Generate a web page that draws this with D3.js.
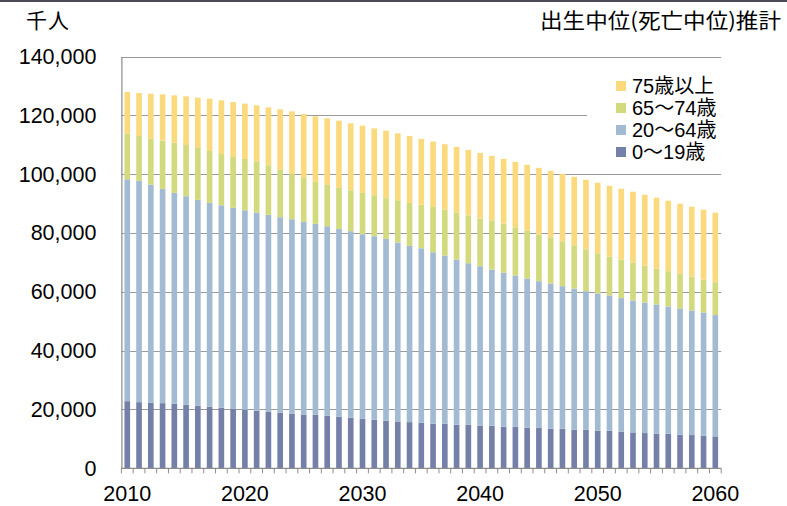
<!DOCTYPE html>
<html>
<head>
<meta charset="utf-8">
<script src="https://cdn.jsdelivr.net/npm/d3@7"></script>
<style>
  html, body { margin: 0; padding: 0; background: #fff; }
  svg { display: block; }
</style>
</head>
<body>
<svg id="chart" width="787" height="506"></svg>
<script>
// 将来推計人口（千人）: 年齢区分別
const years = d3.range(2010, 2061);

const age0to19 = [
  22830, 22490, 22260, 22150, 21920, 21580, 21250, 20910, 20570, 20340,
  19890, 19550, 19210, 18870, 18530, 18300, 18190, 17850, 17510, 17170,
  16830, 16490, 16150, 15920, 15700, 15480, 15140, 15140, 14800, 14800,
  14460, 14460, 14120, 14120, 13790, 13790, 13450, 13450, 13110, 13110,
  12770, 12770, 12430, 12200, 11980, 11750, 11750, 11410, 11300, 11070,
  10850
];
const age20to64 = [
  75430, 75210, 74190, 72830, 71700, 70910, 69990, 69310, 68860, 68190,
  67840, 67390, 66940, 66490, 66150, 65470, 64900, 64450, 63880, 63430,
  62750, 62410, 61840, 60830, 59920, 59320, 58310, 57180, 56160, 54920,
  54240, 53110, 52430, 51420, 50730, 49830, 49380, 48470, 48020, 47120,
  46670, 45990, 45420, 44860, 44400, 43960, 43280, 42940, 42370, 41920,
  41240
];
const age65to74 = [
  15510, 15280, 15620, 16410, 17090, 17430, 17660, 17660, 17430, 17320,
  17440, 17430, 16870, 16070, 15280, 14940, 14270, 14040, 13930, 13930,
  14040, 13930, 13820, 14380, 14600, 14810, 15370, 15590, 16050, 16270,
  16270, 16730, 16620, 16380, 16270, 15930, 15700, 15260, 14690, 14230,
  13670, 13220, 13110, 12880, 12550, 12200, 11980, 11750, 11530, 11190,
  11190
];
const age75plus = [
  14150, 14600, 15280, 15740, 16080, 16530, 17100, 17780, 18230, 18670,
  18790, 19020, 19690, 20600, 21390, 21740, 22300, 22640, 22870, 22750,
  22870, 22750, 22980, 22750, 22760, 22370, 22260, 22260, 22260, 22260,
  22260, 21920, 22030, 22260, 22380, 22600, 22600, 22940, 23280, 23620,
  23950, 24070, 24080, 24080, 24070, 24080, 23960, 23850, 23730, 23740,
  23610
];

const seriesKeys = ["0〜19歳", "20〜64歳", "65〜74歳", "75歳以上"];
const seriesColors = ["#7580a8", "#a2bad2", "#d3da7e", "#fbd97d"];
const yTicks = [0, 20000, 40000, 60000, 80000, 100000, 120000, 140000];
const xLabelYears = [2010, 2020, 2030, 2040, 2050, 2060];

const table = years.map((yr, i) => ({
  year: yr,
  "0〜19歳": age0to19[i],
  "20〜64歳": age20to64[i],
  "65〜74歳": age65to74[i],
  "75歳以上": age75plus[i]
}));

const svg = d3.select("#chart");
const latin = "'Liberation Sans', Arial, 'Noto Sans CJK JP', sans-serif";
const cjk = "'Noto Sans CJK JP', 'Liberation Sans', sans-serif";

const plot = { left: 121.4, right: 721.2, top: 56.5, bottom: 468.3 };

const x = d3.scaleBand()
  .domain(years)
  .range([plot.left, plot.right])
  .paddingInner(0.52)
  .paddingOuter(0.26);

const y = d3.scaleLinear()
  .domain([0, 140000])
  .range([plot.bottom, plot.top]);

// top frame line
svg.append("rect")
  .attr("x", 0).attr("y", 0)
  .attr("width", 787).attr("height", 2)
  .attr("fill", "#4a4a55");

// horizontal gridlines
svg.append("g")
  .selectAll("line")
  .data(yTicks.filter(d => d > 0))
  .join("line")
  .attr("x1", plot.left).attr("x2", plot.right)
  .attr("y1", d => Math.round(y(d)) + 0.5)
  .attr("y2", d => Math.round(y(d)) + 0.5)
  .attr("stroke", "#9a9a9a")
  .attr("stroke-width", 1.2);

// stacked bars
const stack = d3.stack().keys(seriesKeys);
const layers = stack(table);

svg.append("g")
  .selectAll("g")
  .data(layers)
  .join("g")
  .attr("fill", (d, i) => seriesColors[i])
  .selectAll("rect")
  .data(d => d)
  .join("rect")
  .attr("x", d => x(d.data.year))
  .attr("width", x.bandwidth())
  .attr("y", d => y(d[1]))
  .attr("height", d => y(d[0]) - y(d[1]));

// y axis
const yAxis = d3.axisLeft(y)
  .tickValues(yTicks)
  .tickFormat(d3.format(","))
  .tickSize(0)
  .tickPadding(25);

const gy = svg.append("g")
  .attr("transform", `translate(${plot.left},0)`)
  .call(yAxis);
gy.select(".domain").attr("stroke", "#8c8c8c").attr("stroke-width", 1.2);
gy.selectAll("text")
  .attr("font-family", latin)
  .attr("font-size", 21.5)
  .attr("fill", "#000");

// x axis: ticks at band boundaries, labels under selected years
const boundaries = years.map(yr => x(yr) - x.step() * x.paddingInner() / 2)
  .concat([plot.right]);
const gx = svg.append("g");
gx.append("line")
  .attr("x1", plot.left).attr("x2", plot.right)
  .attr("y1", plot.bottom).attr("y2", plot.bottom)
  .attr("stroke", "#8c8c8c").attr("stroke-width", 1.2);
gx.selectAll("line.tick")
  .data(boundaries)
  .join("line")
  .attr("class", "tick")
  .attr("x1", d => d).attr("x2", d => d)
  .attr("y1", plot.bottom).attr("y2", plot.bottom + 5)
  .attr("stroke", "#8c8c8c").attr("stroke-width", 1);
gx.selectAll("text")
  .data(xLabelYears)
  .join("text")
  .attr("x", d => x(d) + x.bandwidth() / 2)
  .attr("y", 501)
  .attr("text-anchor", "middle")
  .attr("font-family", latin)
  .attr("font-size", 21.5)
  .attr("fill", "#000")
  .text(d => d);

// titles
svg.append("text")
  .attr("x", 26).attr("y", 28)
  .attr("font-family", cjk)
  .attr("font-size", 21)
  .attr("letter-spacing", 1)
  .attr("fill", "#000")
  .text("千人");

svg.append("text")
  .attr("x", 781).attr("y", 28)
  .attr("text-anchor", "end")
  .attr("font-family", cjk)
  .attr("font-size", 21)
  .attr("textLength", 241)
  .attr("lengthAdjust", "spacingAndGlyphs")
  .attr("fill", "#000")
  .text("出生中位(死亡中位)推計");

// legend
const legend = svg.append("g");
legend.append("rect")
  .attr("x", 587).attr("y", 68)
  .attr("width", 134).attr("height", 98)
  .attr("fill", "#fff");

const legendOrder = seriesKeys.slice().reverse();
const items = legend.selectAll("g.item")
  .data(legendOrder)
  .join("g")
  .attr("class", "item")
  .attr("transform", (d, i) => `translate(616, ${86 + i * 22})`);
items.append("rect")
  .attr("x", 0).attr("y", -5)
  .attr("width", 10).attr("height", 10)
  .attr("fill", d => seriesColors[seriesKeys.indexOf(d)]);
items.append("text")
  .attr("x", 16).attr("y", 0)
  .attr("dy", "0.36em")
  .attr("font-family", latin)
  .attr("font-size", 20)
  .attr("fill", "#000")
  .text(d => d);
</script>
</body>
</html>
